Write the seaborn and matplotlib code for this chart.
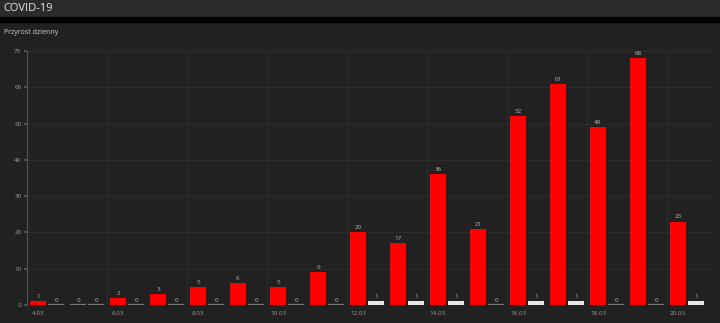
import matplotlib
matplotlib.use("Agg")
import matplotlib.pyplot as plt
import seaborn as sns
import pandas as pd

dates = ["4.03", "5.03", "6.03", "7.03", "8.03", "9.03", "10.03", "11.03", "12.03",
         "13.03", "14.03", "15.03", "16.03", "17.03", "18.03", "19.03", "20.03"]
new_cases = [1, 0, 2, 3, 5, 6, 5, 9, 20, 17, 36, 21, 52, 61, 49, 68, 23]
deaths = [0, 0, 0, 0, 0, 0, 0, 0, 1, 1, 1, 0, 1, 1, 0, 0, 1]
series_names = ["Zakażenia", "Zgony"]
y_ticks = [0, 10, 20, 30, 40, 50, 60, 70]

df = pd.DataFrame({
    "date": dates * 2,
    "series": [series_names[0]] * len(dates) + [series_names[1]] * len(dates),
    "value": new_cases + deaths,
})

sns.set_theme(style="dark")
plt.rcParams['font.family'] = ['Open Sans', 'DejaVu Sans']

BG = "#212121"
fig = plt.figure(figsize=(7.2, 3.23), dpi=100, facecolor=BG)

# header band
fig.patches.append(plt.Rectangle((0, 1 - 17 / 323), 1, 17 / 323, transform=fig.transFigure,
                                 color="#2b2b2b", zorder=0))
fig.patches.append(plt.Rectangle((0, 1 - 22 / 323), 1, 5 / 323, transform=fig.transFigure,
                                 color="#000000", zorder=0))
fig.text(3 / 720, 1 - 8.5 / 323, "COVID-19", color="#e6e6e6", fontsize=8, va="center", ha="left")
fig.text(4 / 720, 1 - 32 / 323, "Przyrost dzienny", color="#cfcfcf", fontsize=5, va="center", ha="left")

ax = fig.add_axes([27 / 720, 1 - 305 / 323, (712 - 27) / 720, (305 - 51) / 323])
ax.set_facecolor(BG)

sns.barplot(data=df, x="date", y="value", hue="series", hue_order=series_names,
            palette=["#ff0000", "#e6e6e6"], width=0.9, gap=0.1, saturation=1,
            legend=False, ax=ax, zorder=3)

for patch in ax.patches:
    if patch.get_height() == 0:
        patch.set_edgecolor("#777777")
        patch.set_linewidth(1.6)
    else:
        patch.set_linewidth(0)

for cont in ax.containers:
    ax.bar_label(cont, fontsize=4.5, color="#b5b5b5", padding=1.5)

ax.set_ylim(0, 70)
ax.set_xlim(-0.5, 16.625)
ax.set_yticks(y_ticks)
ax.set_yticklabels([str(t) for t in y_ticks], fontsize=4.5, color="#9a9a9a")
tick_pos = list(range(0, len(dates), 2))
ax.set_xticks([p - 0.225 for p in tick_pos])
ax.set_xticklabels([dates[p] for p in tick_pos], fontsize=4.5, color="#9a9a9a")
ax.tick_params(axis="x", length=0, pad=4)
ax.tick_params(axis="y", length=2, color="#555555", pad=2, left=True)

for y in y_ticks[1:]:
    ax.axhline(y, color="#2f2f2f", linewidth=0.6, zorder=1)
for p in tick_pos[1:]:
    ax.axvline(p - 0.5, color="#2f2f2f", linewidth=0.6, zorder=1)

ax.grid(False)
ax.set_xlabel("")
ax.set_ylabel("")
for s in ["top", "right", "bottom"]:
    ax.spines[s].set_visible(False)
ax.spines["left"].set_color("#555555")
ax.spines["left"].set_linewidth(0.8)

fig.savefig("out.png", dpi=100, facecolor=BG)
